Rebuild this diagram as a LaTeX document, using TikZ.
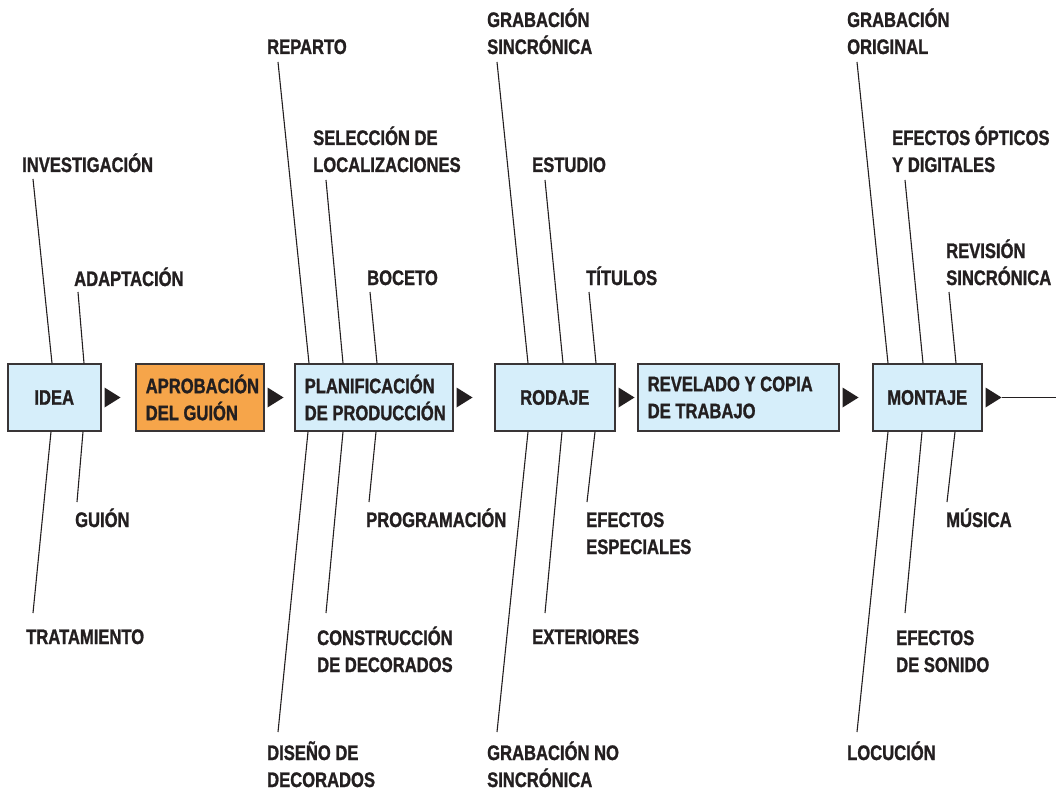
\documentclass[tikz,border=0pt]{standalone}
\usepackage{fontspec}
\setmainfont{Liberation Sans}[FakeStretch=0.79, BoldFeatures={FakeBold=1.2}]
\definecolor{stageblue}{HTML}{D6EEFA}
\definecolor{stageorange}{HTML}{F6A54A}
\definecolor{ink}{HTML}{231F20}
\hyphenpenalty=10000
\exhyphenpenalty=10000
\begin{document}
\begin{tikzpicture}[x=1pt,y=-1pt,
  stage/.style={draw=ink!90, line width=1.5pt, fill=stageblue, minimum height=67pt, inner xsep=10pt, inner ysep=0pt, anchor=west, text=ink, font=\bfseries\fontsize{21}{27}\selectfont},
  lbl/.style={anchor=base west, inner sep=0pt, align=left, text=ink, font=\bfseries\fontsize{21}{27}\selectfont},
  bone/.style={draw=ink, line width=1.1pt}]
\useasboundingbox (0,0) rectangle (1056,791);
% etapas
\node[stage, minimum width=93pt] (idea) at (7,397.5) {IDEA};
\node[stage, fill=stageorange, text width=108pt, align=flush left] (guion) at (135,397.5) {APROBACIÓN\\DEL~GUIÓN};
\node[stage, text width=138pt, align=flush left] (plan) at (294,397.5) {PLANIFICACIÓN\\\mbox{DE PRODUCCIÓN}};
\node[stage, minimum width=120pt] (rodaje) at (494,397.5) {RODAJE};
\node[stage, text width=181pt, align=flush left] (revelado) at (637,397.5) {REVELADO~Y~COPIA\\DE~TRABAJO};
\node[stage, minimum width=109pt] (montaje) at (872,397.5) {MONTAJE};
\foreach \b in {idea,guion,plan,rodaje,revelado,montaje}
  \fill[ink] ([xshift=3pt]\b.east) -- ++(0,-10) -- ++(16,10) -- ++(-16,10) -- cycle;
\coordinate (fin) at (1056,397.5);
\draw[bone] ([xshift=19pt]montaje.east) -- (fin);
% idea
\node[lbl] (inv) at (22,172) {INVESTIGACIÓN};
\node[lbl] (adap) at (74,286) {ADAPTACIÓN};
\node[lbl] (gui) at (75,527) {GUIÓN};
\node[lbl] (trat) at (26,644) {TRATAMIENTO};
\draw[bone] ([shift={(11,7)}]inv.base west) -- ([xshift=45pt]idea.north west);
\draw[bone] ([shift={(4,6)}]adap.base west) -- ([xshift=77pt]idea.north west);
\draw[bone] ([shift={(2,-25)}]gui.base west) -- ([xshift=76pt]idea.south west);
\draw[bone] ([shift={(7,-31)}]trat.base west) -- ([xshift=44pt]idea.south west);
% planificacion
\node[lbl] (rep) at (267,54) {REPARTO};
\node[lbl] (sel) at (313,172) {SELECCIÓN DE\\LOCALIZACIONES};
\node[lbl] (boc) at (367,285) {BOCETO};
\node[lbl] (prog) at (366,527) {PROGRAMACIÓN};
\node[lbl] (cons) at (317,672) {CONSTRUCCIÓN\\DE DECORADOS};
\node[lbl] (dis) at (267,787) {DISEÑO DE\\DECORADOS};
\draw[bone] ([shift={(11,8)}]rep.base west) -- ([xshift=15pt]plan.north west);
\draw[bone] ([shift={(13,8)}]sel.base west) -- ([xshift=49pt]plan.north west);
\draw[bone] ([shift={(3,7)}]boc.base west) -- ([xshift=83pt]plan.north west);
\draw[bone] ([shift={(3,-25)}]prog.base west) -- ([xshift=82pt]plan.south west);
\draw[bone] ([shift={(9,-59)}]cons.base west) -- ([xshift=49pt]plan.south west);
\draw[bone] ([shift={(11,-55)}]dis.base west) -- ([xshift=14pt]plan.south west);
% rodaje
\node[lbl] (gsin) at (487,54) {GRABACIÓN\\SINCRÓNICA};
\node[lbl] (est) at (532,172) {ESTUDIO};
\node[lbl] (tit) at (586,285) {TÍTULOS};
\node[lbl] (efesp) at (586,554) {EFECTOS\\ESPECIALES};
\node[lbl] (ext) at (532,644) {EXTERIORES};
\node[lbl] (gnos) at (487,787) {GRABACIÓN NO\\SINCRÓNICA};
\draw[bone] ([shift={(10,8)}]gsin.base west) -- ([xshift=34pt]rodaje.north west);
\draw[bone] ([shift={(13,8)}]est.base west) -- ([xshift=69pt]rodaje.north west);
\draw[bone] ([shift={(3,7)}]tit.base west) -- ([xshift=102pt]rodaje.north west);
\draw[bone] ([shift={(1,-52)}]efesp.base west) -- ([xshift=101pt]rodaje.south west);
\draw[bone] ([shift={(13,-31)}]ext.base west) -- ([xshift=68pt]rodaje.south west);
\draw[bone] ([shift={(10,-55)}]gnos.base west) -- ([xshift=34pt]rodaje.south west);
% montaje
\node[lbl] (gori) at (847,54) {GRABACIÓN\\ORIGINAL};
\node[lbl] (opt) at (892,172) {EFECTOS ÓPTICOS\\Y DIGITALES};
\node[lbl] (rev) at (946,285) {REVISIÓN\\SINCRÓNICA};
\node[lbl] (mus) at (946,527) {MÚSICA};
\node[lbl] (son) at (896,672) {EFECTOS\\DE SONIDO};
\node[lbl] (locu) at (847,760) {LOCUCIÓN};
\draw[bone] ([shift={(10,8)}]gori.base west) -- ([xshift=16pt]montaje.north west);
\draw[bone] ([shift={(13,8)}]opt.base west) -- ([xshift=51pt]montaje.north west);
\draw[bone] ([shift={(3,7)}]rev.base west) -- ([xshift=84pt]montaje.north west);
\draw[bone] ([shift={(1,-25)}]mus.base west) -- ([xshift=83pt]montaje.south west);
\draw[bone] ([shift={(9,-59)}]son.base west) -- ([xshift=50pt]montaje.south west);
\draw[bone] ([shift={(10,-28)}]locu.base west) -- ([xshift=16pt]montaje.south west);
\end{tikzpicture}
\end{document}
